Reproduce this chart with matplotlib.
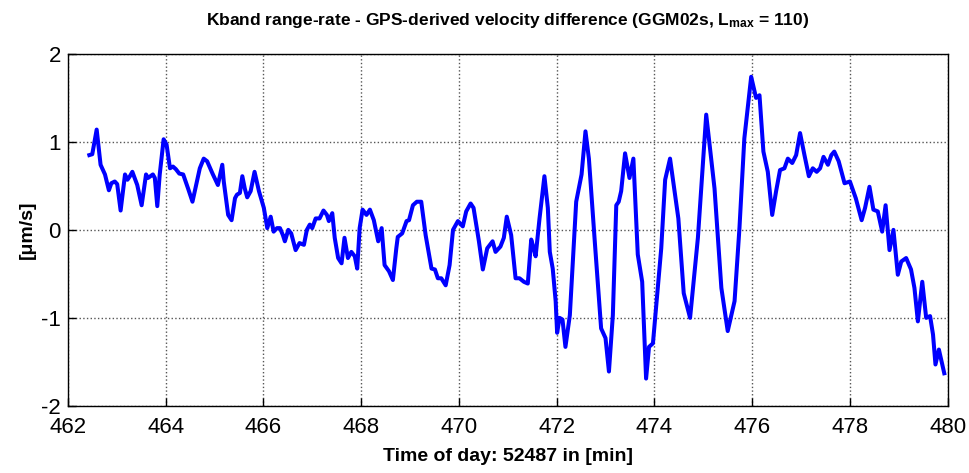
import numpy as np
import matplotlib
matplotlib.use('Agg')
import matplotlib.pyplot as plt

plt.rcParams['font.family'] = ['Liberation Sans', 'DejaVu Sans']
plt.rcParams['mathtext.fontset'] = 'custom'
plt.rcParams['mathtext.bf'] = 'Liberation Sans:bold'
plt.rcParams['mathtext.rm'] = 'Liberation Sans'
plt.rcParams['axes.unicode_minus'] = False

# time of day [min] and velocity difference [um/s]
t = [462.44, 462.50, 462.59, 462.67, 462.76, 462.84, 462.89, 462.96, 463.01, 463.08,
     463.17, 463.22, 463.27, 463.32, 463.42, 463.51, 463.60, 463.64, 463.69, 463.74,
     463.78, 463.83, 463.88, 463.96, 464.02, 464.09, 464.15, 464.21, 464.28, 464.36,
     464.46, 464.55, 464.64, 464.70, 464.78, 464.85, 464.96, 465.07, 465.16, 465.19,
     465.28, 465.35, 465.42, 465.46, 465.52, 465.57, 465.62, 465.67, 465.74, 465.82,
     465.91, 466.01, 466.08, 466.15, 466.21, 466.28, 466.34, 466.40, 466.44, 466.51,
     466.57, 466.66, 466.74, 466.83, 466.89, 466.95, 467.00, 467.07, 467.15, 467.23,
     467.30, 467.34, 467.41, 467.46, 467.53, 467.60, 467.66, 467.73, 467.80, 467.87,
     467.92, 467.97, 468.03, 468.11, 468.18, 468.26, 468.35, 468.42, 468.48, 468.57,
     468.65, 468.72, 468.75, 468.84, 468.93, 468.98, 469.06, 469.14, 469.23, 469.32,
     469.44, 469.51, 469.57, 469.64, 469.73, 469.81, 469.88, 469.98, 470.08, 470.15,
     470.24, 470.30, 470.41, 470.49, 470.58, 470.69, 470.75, 470.85, 470.92, 470.98,
     471.07, 471.16, 471.24, 471.33, 471.41, 471.48, 471.53, 471.57, 471.65, 471.75,
     471.82, 471.86, 471.92, 471.98, 472.01, 472.06, 472.12, 472.18, 472.27, 472.40,
     472.51, 472.59, 472.66, 472.78, 472.91, 473.00, 473.07, 473.15, 473.22, 473.27,
     473.32, 473.40, 473.49, 473.57, 473.66, 473.75, 473.83, 473.89, 473.97, 474.14,
     474.22, 474.32, 474.49, 474.60, 474.73, 474.89, 475.06, 475.23, 475.37, 475.50,
     475.64, 475.74, 475.84, 475.98, 476.08, 476.15, 476.23, 476.32, 476.41, 476.49,
     476.57, 476.66, 476.73, 476.82, 476.90, 476.98, 477.07, 477.16, 477.24, 477.32,
     477.39, 477.46, 477.55, 477.62, 477.68, 477.77, 477.89, 478.00, 478.12, 478.24,
     478.31, 478.40, 478.48, 478.57, 478.66, 478.73, 478.81, 478.89, 478.98, 479.05,
     479.15, 479.25, 479.32, 479.39, 479.48, 479.56, 479.64, 479.70, 479.75, 479.82,
     479.93]
dv = [0.85, 0.86, 1.14, 0.74, 0.63, 0.45, 0.53, 0.55, 0.52, 0.22,
      0.63, 0.57, 0.61, 0.66, 0.51, 0.28, 0.63, 0.59, 0.61, 0.63,
      0.59, 0.27, 0.63, 1.03, 0.97, 0.70, 0.72, 0.69, 0.64, 0.63,
      0.47, 0.32, 0.55, 0.70, 0.81, 0.78, 0.64, 0.51, 0.74, 0.55,
      0.17, 0.11, 0.36, 0.40, 0.42, 0.61, 0.47, 0.37, 0.44, 0.66,
      0.44, 0.25, 0.02, 0.15, -0.02, 0.02, 0.02, -0.06, -0.13, 0.00,
      -0.04, -0.23, -0.15, -0.17, 0.00, 0.06, 0.02, 0.13, 0.13, 0.22,
      0.17, 0.10, 0.19, -0.09, -0.32, -0.38, -0.09, -0.32, -0.25, -0.30,
      -0.44, 0.02, 0.23, 0.17, 0.23, 0.11, -0.13, 0.02, -0.40, -0.47,
      -0.57, -0.21, -0.08, -0.04, 0.10, 0.11, 0.28, 0.32, 0.32, -0.06,
      -0.44, -0.45, -0.55, -0.55, -0.63, -0.40, 0.00, 0.10, 0.04, 0.21,
      0.30, 0.25, -0.13, -0.45, -0.21, -0.13, -0.25, -0.19, -0.09, 0.15,
      -0.06, -0.55, -0.55, -0.59, -0.61, -0.11, -0.21, -0.30, 0.13, 0.61,
      0.25, -0.25, -0.44, -0.81, -1.17, -1.00, -1.02, -1.33, -0.97, 0.32,
      0.63, 1.12, 0.81, -0.13, -1.12, -1.23, -1.61, -0.97, 0.28, 0.32,
      0.44, 0.87, 0.59, 0.81, -0.28, -0.59, -1.69, -1.33, -1.29, -0.21,
      0.57, 0.81, 0.13, -0.72, -1.00, -0.09, 1.31, 0.47, -0.66, -1.15,
      -0.81, 0.02, 1.04, 1.74, 1.50, 1.53, 0.89, 0.66, 0.17, 0.44,
      0.68, 0.70, 0.81, 0.76, 0.85, 1.10, 0.85, 0.61, 0.70, 0.66,
      0.70, 0.83, 0.74, 0.85, 0.89, 0.78, 0.53, 0.55, 0.36, 0.11,
      0.25, 0.49, 0.23, 0.21, -0.02, 0.28, -0.23, 0.00, -0.51, -0.36,
      -0.32, -0.45, -0.66, -1.04, -0.59, -1.00, -0.98, -1.19, -1.53, -1.36,
      -1.63]

xticks = [462, 464, 466, 468, 470, 472, 474, 476, 478, 480]
yticks = [-2, -1, 0, 1, 2]

fig = plt.figure(figsize=(9.69, 4.73), dpi=100)
ax = fig.add_axes([0.070, 0.142, 0.908, 0.744])

ax.plot(t, dv, color='#0000ff', linewidth=2.9)

ax.set_xlim(462, 480)
ax.set_ylim(-2, 2)
ax.set_xticks(xticks)
ax.set_yticks(yticks)
ax.tick_params(direction='in', length=6, width=1, labelsize=16)
ax.tick_params(axis='x', pad=8)
ax.tick_params(axis='y', pad=5)
ax.grid(True, linestyle=':', color='#555555', linewidth=1.0)
for s in ax.spines.values():
    s.set_linewidth(1.0)

ax.set_title(r'Kband range-rate - GPS-derived velocity difference (GGM02s, $\mathbf{L_{max}}$ = 110)',
             fontsize=12.5, fontweight='bold', pad=21)
ax.set_xlabel('Time of day: 52487 in [min]', fontsize=14, fontweight='bold', labelpad=7)
ax.set_ylabel('[μm/s]', fontsize=14, fontweight='bold', labelpad=4)

fig.savefig('out.png', dpi=100)
